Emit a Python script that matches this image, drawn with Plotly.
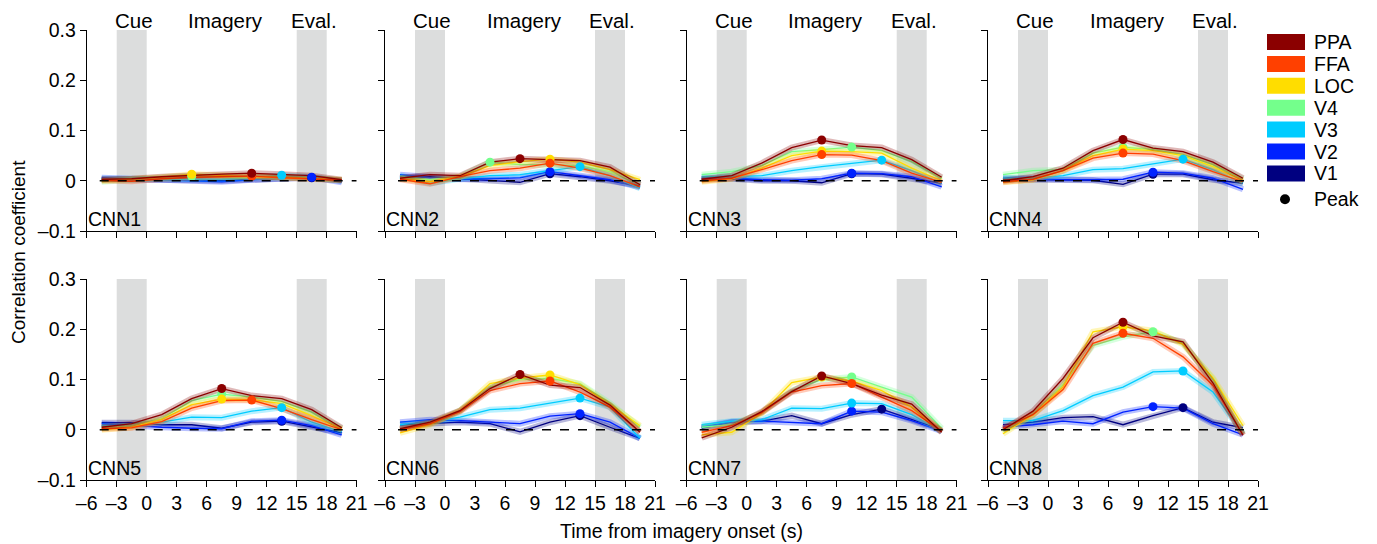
import plotly.graph_objects as go

time_s = [-4.5, -1.5, 1.5, 4.5, 7.5, 10.5, 13.5, 16.5, 19.5]
rois = ["PPA", "FFA", "LOC", "V4", "V3", "V2", "V1"]
roi_colors = ["#8B0000", "#FF4000", "#FFDD00", "#74FF8C", "#00CCFF", "#0022FF", "#000080"]
panels = ["CNN1", "CNN2", "CNN3", "CNN4", "CNN5", "CNN6", "CNN7", "CNN8"]

cnn1 = {
    "PPA": [0.003, 0.004, 0.008, 0.011, 0.013, 0.015, 0.013, 0.010, 0.002],
    "FFA": [0.001, -0.001, 0.004, 0.007, 0.008, 0.009, 0.006, 0.004, 0.001],
    "LOC": [0.000, 0.003, 0.007, 0.013, 0.010, 0.008, 0.007, 0.005, 0.002],
    "V4": [-0.002, 0.003, 0.006, 0.009, 0.008, 0.007, 0.007, 0.005, 0.001],
    "V3": [0.004, 0.004, 0.002, 0.003, 0.003, 0.006, 0.011, 0.007, 0.000],
    "V2": [0.006, 0.004, 0.002, 0.001, -0.002, 0.002, 0.004, 0.007, -0.003],
    "V1": [0.003, 0.003, 0.002, 0.001, 0.000, 0.003, 0.004, 0.006, 0.000],
}
cnn2 = {
    "PPA": [0.005, 0.012, 0.010, 0.037, 0.044, 0.042, 0.040, 0.027, -0.008],
    "FFA": [0.003, -0.006, 0.008, 0.020, 0.025, 0.035, 0.025, 0.010, -0.012],
    "LOC": [0.004, -0.002, 0.008, 0.030, 0.038, 0.043, 0.037, 0.022, 0.002],
    "V4": [0.006, 0.002, 0.008, 0.037, 0.032, 0.032, 0.030, 0.018, -0.008],
    "V3": [0.010, -0.005, 0.004, 0.010, 0.012, 0.020, 0.028, 0.010, -0.015],
    "V2": [0.012, 0.006, 0.003, 0.004, 0.006, 0.018, 0.010, 0.002, -0.013],
    "V1": [0.007, 0.008, 0.004, 0.001, -0.003, 0.014, 0.008, 0.000, -0.010],
}
cnn3 = {
    "PPA": [0.003, 0.010, 0.035, 0.066, 0.081, 0.070, 0.066, 0.042, 0.007],
    "FFA": [0.000, 0.005, 0.022, 0.040, 0.052, 0.051, 0.040, 0.015, -0.003],
    "LOC": [-0.002, 0.004, 0.025, 0.050, 0.059, 0.058, 0.055, 0.025, 0.000],
    "V4": [0.012, 0.018, 0.030, 0.058, 0.062, 0.067, 0.060, 0.038, 0.004],
    "V3": [0.008, 0.008, 0.010, 0.020, 0.028, 0.035, 0.041, 0.020, -0.005],
    "V2": [0.005, 0.006, 0.002, 0.001, 0.004, 0.015, 0.014, 0.008, -0.012],
    "V1": [0.003, 0.004, 0.000, 0.000, -0.004, 0.014, 0.013, 0.005, -0.005],
}
cnn4 = {
    "PPA": [0.000, 0.008, 0.025, 0.060, 0.082, 0.065, 0.058, 0.037, 0.005],
    "FFA": [-0.002, 0.003, 0.020, 0.045, 0.055, 0.053, 0.040, 0.018, -0.002],
    "LOC": [-0.003, 0.002, 0.020, 0.050, 0.063, 0.060, 0.050, 0.028, 0.000],
    "V4": [0.012, 0.020, 0.022, 0.055, 0.067, 0.062, 0.052, 0.032, 0.003],
    "V3": [0.005, 0.005, 0.010, 0.022, 0.024, 0.033, 0.043, 0.022, -0.005],
    "V2": [0.005, 0.003, 0.002, 0.002, 0.003, 0.017, 0.015, 0.005, -0.017],
    "V1": [0.003, 0.002, 0.002, 0.001, -0.007, 0.013, 0.013, 0.002, -0.005],
}
cnn5 = {
    "PPA": [0.005, 0.012, 0.030, 0.062, 0.082, 0.068, 0.062, 0.040, 0.004],
    "FFA": [0.002, 0.004, 0.016, 0.043, 0.058, 0.059, 0.042, 0.020, 0.000],
    "LOC": [0.000, 0.005, 0.020, 0.050, 0.061, 0.060, 0.052, 0.028, 0.001],
    "V4": [0.003, 0.008, 0.022, 0.058, 0.071, 0.065, 0.056, 0.035, 0.002],
    "V3": [0.008, 0.008, 0.015, 0.025, 0.024, 0.037, 0.044, 0.015, -0.004],
    "V2": [0.012, 0.008, 0.005, 0.003, 0.002, 0.017, 0.019, 0.008, -0.010],
    "V1": [0.014, 0.014, 0.010, 0.010, 0.003, 0.015, 0.017, 0.005, -0.006],
}
cnn6 = {
    "PPA": [0.002, 0.015, 0.038, 0.082, 0.110, 0.089, 0.084, 0.049, -0.005],
    "FFA": [0.000, 0.012, 0.036, 0.078, 0.092, 0.097, 0.075, 0.045, -0.004],
    "LOC": [-0.006, 0.010, 0.038, 0.092, 0.103, 0.109, 0.090, 0.050, 0.008],
    "V4": [0.000, 0.012, 0.038, 0.085, 0.100, 0.102, 0.092, 0.053, 0.005],
    "V3": [0.010, 0.015, 0.025, 0.040, 0.043, 0.053, 0.063, 0.045, -0.017],
    "V2": [0.015, 0.020, 0.018, 0.015, 0.012, 0.027, 0.032, 0.015, -0.017],
    "V1": [0.010, 0.013, 0.015, 0.012, -0.004, 0.015, 0.028, 0.005, -0.017],
}
cnn7 = {
    "PPA": [-0.016, 0.005, 0.036, 0.076, 0.107, 0.092, 0.069, 0.051, -0.005],
    "FFA": [-0.005, 0.008, 0.034, 0.075, 0.088, 0.092, 0.065, 0.038, -0.003],
    "LOC": [-0.010, -0.005, 0.033, 0.094, 0.105, 0.097, 0.078, 0.045, -0.003],
    "V4": [0.005, 0.010, 0.034, 0.078, 0.100, 0.105, 0.085, 0.065, 0.003],
    "V3": [0.010, 0.017, 0.020, 0.043, 0.042, 0.053, 0.052, 0.030, -0.003],
    "V2": [0.005, 0.016, 0.017, 0.015, 0.012, 0.037, 0.035, 0.018, -0.003],
    "V1": [0.003, 0.015, 0.017, 0.028, 0.012, 0.030, 0.041, 0.020, 0.000],
}
cnn8 = {
    "PPA": [0.000, 0.037, 0.102, 0.183, 0.214, 0.187, 0.175, 0.093, -0.011],
    "FFA": [0.003, 0.030, 0.080, 0.172, 0.192, 0.182, 0.145, 0.088, -0.010],
    "LOC": [-0.008, 0.030, 0.085, 0.195, 0.205, 0.197, 0.170, 0.103, 0.008],
    "V4": [-0.003, 0.030, 0.090, 0.168, 0.185, 0.195, 0.172, 0.100, -0.008],
    "V3": [0.018, 0.018, 0.038, 0.068, 0.085, 0.115, 0.117, 0.075, -0.008],
    "V2": [0.005, 0.010, 0.017, 0.012, 0.035, 0.046, 0.043, 0.012, -0.010],
    "V1": [0.010, 0.015, 0.024, 0.026, 0.010, 0.028, 0.044, 0.015, 0.004],
}
panel_data = [cnn1, cnn2, cnn3, cnn4, cnn5, cnn6, cnn7, cnn8]

x_ticks = [-6, -3, 0, 3, 6, 9, 12, 15, 18, 21]
x_ticktext = ["–6", "–3", "0", "3", "6", "9", "12", "15", "18", "21"]
y_ticks = [-0.1, 0, 0.1, 0.2, 0.3]
y_ticktext = ["–0.1", "0", "0.1", "0.2", "0.3"]
period_labels = ["Cue", "Imagery", "Eval."]
period_pos = [-1.3, 7.9, 16.7]
shade_ranges = [(-3, 0), (15, 18)]

W, H = 1377, 544
FONT = "Liberation Sans, Arial, Helvetica, sans-serif"
col_left_px = [86.7, 385, 686.7, 988]
panel_w_px = 270
row_top_px = [30, 279]
panel_h_px = 201


def hex_rgba(h, a):
    h = h.lstrip("#")
    return "rgba(%d,%d,%d,%.2f)" % (int(h[0:2], 16), int(h[2:4], 16), int(h[4:6], 16), a)


fig = go.Figure()
layout = dict(
    width=W, height=H, autosize=False, margin=dict(l=0, r=0, t=0, b=0, pad=0, autoexpand=False),
    paper_bgcolor="white", plot_bgcolor="white", showlegend=False,
    font=dict(family=FONT, size=19, color="black"),
)
shapes = []
annotations = []

for i, (name, d) in enumerate(zip(panels, panel_data)):
    r, c = divmod(i, 4)
    n = i + 1
    xa = "x" if n == 1 else "x%d" % n
    ya = "y" if n == 1 else "y%d" % n
    x0 = col_left_px[c] / W
    x1 = (col_left_px[c] + panel_w_px) / W
    y1 = 1 - row_top_px[r] / H
    y0 = 1 - (row_top_px[r] + panel_h_px) / H
    layout["xaxis" if n == 1 else "xaxis%d" % n] = dict(
        domain=[x0, x1], anchor=ya, range=[-6, 21], tickvals=x_ticks, ticktext=x_ticktext,
        showticklabels=(r == 1), ticks="outside", ticklen=6, tickcolor="black", tickwidth=1,
        showline=True, linecolor="black", linewidth=1, showgrid=False, zeroline=False,
        tickfont=dict(size=19.5), fixedrange=True, automargin=False,
    )
    layout["yaxis" if n == 1 else "yaxis%d" % n] = dict(
        domain=[y0, y1], anchor=xa, range=[-0.1, 0.3], tickvals=y_ticks, ticktext=y_ticktext,
        showticklabels=(c == 0), ticks="outside", ticklen=6, tickcolor="black", tickwidth=1,
        showline=True, linecolor="black", linewidth=1, showgrid=False, zeroline=False,
        tickfont=dict(size=19.5), fixedrange=True, automargin=False,
    )
    for (a, b) in shade_ranges:
        shapes.append(dict(type="rect", xref=xa, yref="%s domain" % ya, x0=a, x1=b, y0=0, y1=1,
                           fillcolor="#DCDDDD", line=dict(width=0), layer="below"))
    shapes.append(dict(type="line", xref=xa, yref=ya, x0=-4.7, x1=21, y0=0, y1=0,
                       line=dict(color="black", width=1.3, dash="dash"), layer="above"))
    # lines: draw V1 first, PPA last
    for roi, col in reversed(list(zip(rois, roi_colors))):
        fig.add_trace(go.Scatter(x=time_s, y=d[roi], mode="lines", xaxis=xa, yaxis=ya,
                                 line=dict(color=hex_rgba(col, 0.28), width=6), hoverinfo="skip"))
        fig.add_trace(go.Scatter(x=time_s, y=d[roi], mode="lines", xaxis=xa, yaxis=ya,
                                 line=dict(color=col, width=1.3), name=roi))
    for roi, col in reversed(list(zip(rois, roi_colors))):
        vals = d[roi]
        k = max(range(len(vals)), key=lambda j: vals[j])
        fig.add_trace(go.Scatter(x=[time_s[k]], y=[vals[k]], mode="markers", xaxis=xa, yaxis=ya,
                                 marker=dict(color=col, size=9, line=dict(width=0)), name=roi + " peak"))
    annotations.append(dict(text=name, xref="%s domain" % xa, yref="%s domain" % ya, x=0, y=0,
                            xanchor="left", yanchor="bottom", xshift=-1, yshift=-1, showarrow=False,
                            font=dict(size=19.5)))
    if r == 0:
        for lab, pos in zip(period_labels, period_pos):
            annotations.append(dict(text=lab, xref=xa, yref="%s domain" % ya, x=pos, y=1,
                                    xanchor="center", yanchor="bottom", yshift=-4, showarrow=False,
                                    font=dict(size=20.5)))

annotations.append(dict(text="Correlation coefficient", xref="paper", yref="paper",
                        x=18 / W, y=1 - 252 / H, xanchor="center", yanchor="middle",
                        textangle=-90, showarrow=False, font=dict(size=19)))
annotations.append(dict(text="Time from imagery onset (s)", xref="paper", yref="paper",
                        x=681 / W, y=1 - 531 / H, xanchor="center", yanchor="middle",
                        showarrow=False, font=dict(size=19.5)))

# legend
leg_y0 = 42
leg_dy = 21.9
for j, (roi, col) in enumerate(zip(rois, roi_colors)):
    yc = leg_y0 + j * leg_dy
    shapes.append(dict(type="rect", xref="paper", yref="paper", x0=1267 / W, x1=1305 / W,
                       y0=1 - (yc + 8) / H, y1=1 - (yc - 8) / H, fillcolor=col, line=dict(width=0)))
    annotations.append(dict(text=roi, xref="paper", yref="paper", x=1312 / W, y=1 - yc / H,
                            xanchor="left", yanchor="middle", showarrow=False, font=dict(size=19.5)))
yc = leg_y0 + 7 * leg_dy + 4
shapes.append(dict(type="circle", xref="paper", yref="paper", x0=(1285 - 5) / W, x1=(1285 + 5) / W,
                   y0=1 - (yc + 5) / H, y1=1 - (yc - 5) / H, fillcolor="black", line=dict(width=0)))
annotations.append(dict(text="Peak", xref="paper", yref="paper", x=1312 / W, y=1 - yc / H,
                        xanchor="left", yanchor="middle", showarrow=False, font=dict(size=19.5)))

layout["shapes"] = shapes
layout["annotations"] = annotations
fig.update_layout(**layout)
fig.write_html(
    "out.html",
    config={"displayModeBar": False, "staticPlot": True},
    post_script="document.body.style.margin='0';document.body.style.padding='0';"
                "document.body.style.overflow='hidden';",
)
